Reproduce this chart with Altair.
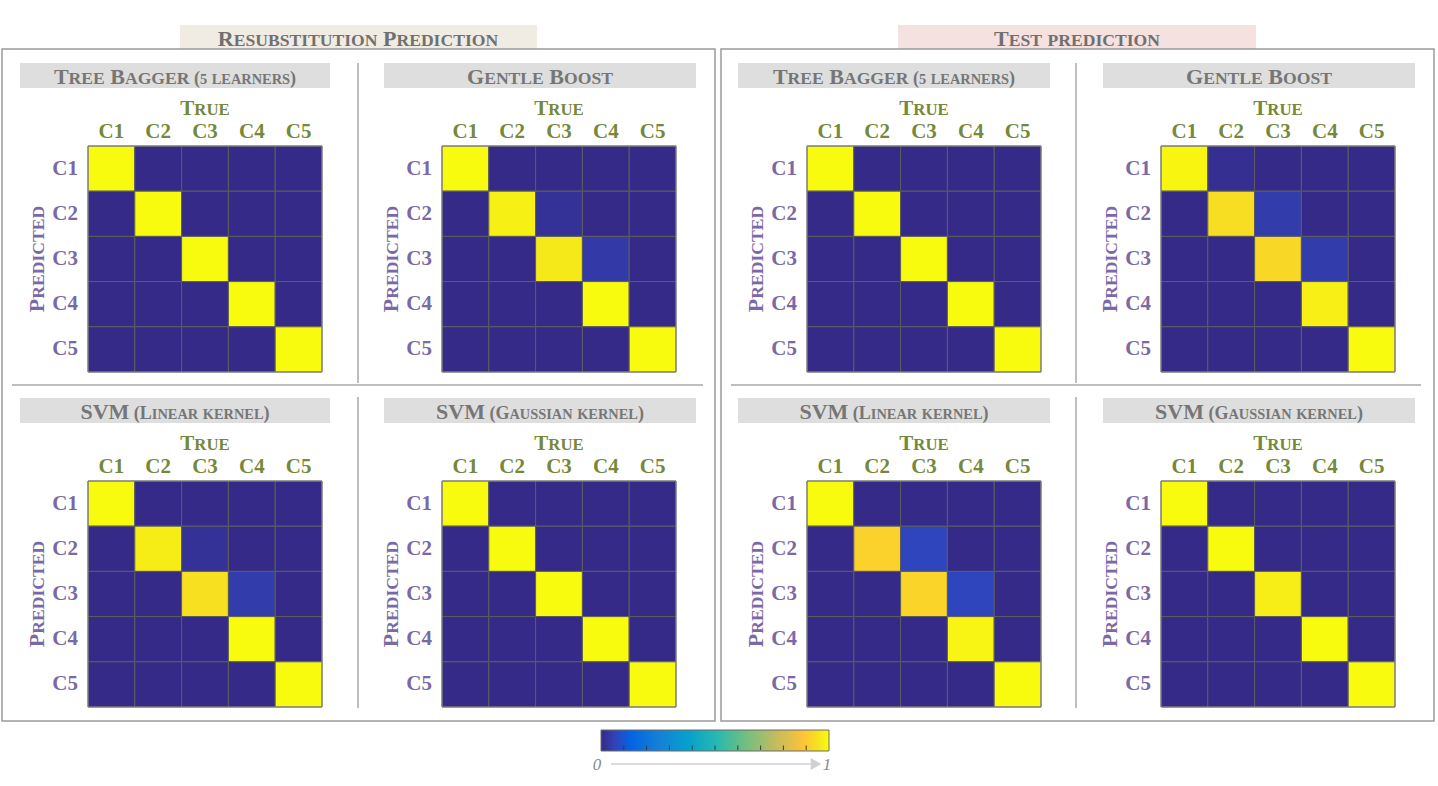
import altair as alt
import pandas as pd

# ---------------- data ----------------
classes = ["C1", "C2", "C3", "C4", "C5"]

# rows = predicted class, columns = true class
resub_tree_bagger = [
    [1, 0, 0, 0, 0],
    [0, 1, 0, 0, 0],
    [0, 0, 1, 0, 0],
    [0, 0, 0, 1, 0],
    [0, 0, 0, 0, 1],
]
resub_gentle_boost = [
    [1, 0, 0, 0, 0],
    [0, 0.977, 0.02, 0, 0],
    [0, 0, 0.962, 0.04, 0],
    [0, 0, 0, 1, 0],
    [0, 0, 0, 0, 1],
]
resub_svm_linear = [
    [1, 0, 0, 0, 0],
    [0, 0.97, 0.02, 0, 0],
    [0, 0, 0.945, 0.045, 0],
    [0, 0, 0, 1, 0],
    [0, 0, 0, 0, 1],
]
resub_svm_gaussian = [
    [1, 0, 0, 0, 0],
    [0, 1, 0, 0, 0],
    [0, 0, 1, 0, 0],
    [0, 0, 0, 1, 0],
    [0, 0, 0, 0, 1],
]
test_tree_bagger = [
    [1, 0, 0, 0, 0],
    [0, 1, 0, 0, 0],
    [0, 0, 1, 0, 0],
    [0, 0, 0, 1, 0],
    [0, 0, 0, 0, 1],
]
test_gentle_boost = [
    [0.99, 0.012, 0, 0, 0],
    [0, 0.94, 0.045, 0, 0],
    [0, 0, 0.928, 0.045, 0],
    [0, 0, 0, 0.975, 0],
    [0, 0, 0, 0, 1],
]
test_svm_linear = [
    [1, 0, 0, 0, 0],
    [0, 0.918, 0.068, 0, 0],
    [0, 0, 0.922, 0.068, 0],
    [0, 0, 0, 0.985, 0],
    [0, 0, 0, 0, 1],
]
test_svm_gaussian = [
    [1, 0, 0, 0, 0],
    [0, 1, 0, 0, 0],
    [0, 0, 0.972, 0, 0],
    [0, 0, 0, 1, 0],
    [0, 0, 0, 0, 1],
]

group_titles = ["Resubstitution Prediction", "Test prediction"]
panel_titles = [
    ("Tree Bagger", "(5 learners)"),
    ("Gentle Boost", ""),
    ("SVM", "(Linear kernel)"),
    ("SVM", "(Gaussian kernel)"),
]
true_label = "True"
pred_label = "Predicted"
legend_ends = ["0", "1"]

# parula colormap stops
parula_stops = [0, 4/63, 8/63, 16/63, 24/63, 32/63, 40/63, 48/63, 56/63, 60/63, 1]
parula_colors = ["#352a87", "#3243ba", "#0363e1", "#1481d6", "#06a0cd", "#27b9b0",
                 "#71bf80", "#c0bc5e", "#ffc337", "#f5e41d", "#f9fb0e"]

# ---------------- styling / layout ----------------
SERIF = "Liberation Serif"
GREEN = "#76883a"
PURPLE = "#7b68a6"
GREY_TXT = "#767676"
LINE = "#a8a8a8"

GRID_X = [88, 442, 807, 1161]
GRID_Y = [146, 481]
GW, GH = 234, 226
BAND_X = [(20, 330), (384, 696), (738, 1050), (1103, 1415)]
BAND_Y = [(63, 88), (398, 423)]
TITLE_BASE = [84, 419]
CBAR = (601, 829, 730, 751)

# Times/Liberation Serif Bold advance widths (per 1000 em)
WID = {'A': 722, 'B': 667, 'C': 722, 'D': 722, 'E': 667, 'F': 611, 'G': 778, 'H': 778,
       'I': 389, 'J': 500, 'K': 778, 'L': 667, 'M': 944, 'N': 722, 'O': 778, 'P': 611,
       'Q': 778, 'R': 722, 'S': 556, 'T': 667, 'U': 722, 'V': 722, 'W': 1000, 'X': 722,
       'Y': 722, 'Z': 667, ' ': 250, '(': 333, ')': 333}
for d in "0123456789":
    WID[d] = 500

one = pd.DataFrame({"k": [0]})


def sc_runs(text, S, r):
    runs = []
    for ch in text:
        if ch == " ":
            runs.append(["", S, WID[" "] * S / 1000])
            continue
        big = ch.isupper() or ch in "()"
        size = S if big else round(S * r, 2)
        g = ch.upper()
        w = WID.get(g, 600) * size / 1000
        if runs and runs[-1][0] != "" and runs[-1][1] == size:
            runs[-1][0] += g
            runs[-1][2] += w
        else:
            runs.append([g, size, w])
    return runs


def text_layer(txt, x, y, size, color, angle=0, weight="bold", style="normal",
               align="left", baseline="alphabetic"):
    return alt.Chart(one).mark_text(
        text=txt, font=SERIF, fontWeight=weight, fontStyle=style, fontSize=size,
        align=align, baseline=baseline, angle=angle, color=color
    ).encode(x=alt.value(x), y=alt.value(y))


def sc_text(segments, cx, base, color):
    runs = []
    for i, (t, S, r) in enumerate(segments):
        if i > 0 and t:
            runs.append(["", S, WID[" "] * S / 1000])
        runs += sc_runs(t, S, r)
    total = sum(r[2] for r in runs)
    x = cx - total / 2
    out = []
    for txt, size, w in runs:
        if txt:
            out.append(text_layer(txt, x, base, size, color))
        x += w
    return out


def sc_vtext(segments, cy, bx, color):
    runs = []
    for t, S, r in segments:
        runs += sc_runs(t, S, r)
    total = sum(r[2] for r in runs)
    y = cy + total / 2
    out = []
    for txt, size, w in runs:
        if txt:
            out.append(text_layer(txt, bx, y, size, color, angle=270))
        y -= w
    return out


def rect_deco(x, x2, y, y2, fill=None, stroke=None, sw=1.5):
    kw = {}
    if fill is not None:
        kw["fill"] = fill
    else:
        kw["fillOpacity"] = 0
    if stroke:
        kw["stroke"] = stroke
        kw["strokeWidth"] = sw
    return alt.Chart(one).mark_rect(**kw).encode(
        x=alt.value(x), x2=alt.value(x2), y=alt.value(y), y2=alt.value(y2))


def rule_deco(x, x2, y, y2, color=LINE, sw=1.5):
    return alt.Chart(one).mark_rule(color=color, strokeWidth=sw).encode(
        x=alt.value(x), x2=alt.value(x2), y=alt.value(y), y2=alt.value(y2))


color_scale = alt.Scale(domain=parula_stops, range=parula_colors, interpolate="rgb")


def panel(matrix, gx, gy):
    rows = [{"true": classes[j], "pred": classes[i], "value": matrix[i][j]}
            for i in range(5) for j in range(5)]
    df = pd.DataFrame(rows)
    xs = alt.Scale(domain=classes, range=[gx, gx + GW], paddingInner=0, paddingOuter=0)
    ys = alt.Scale(domain=classes, range=[gy, gy + GH], paddingInner=0, paddingOuter=0)
    cells = alt.Chart(df).mark_rect(stroke="#5c5c5c", strokeWidth=1).encode(
        x=alt.X("true:N", scale=xs, axis=None),
        y=alt.Y("pred:N", scale=ys, axis=None),
        color=alt.Color("value:Q", scale=color_scale, legend=None),
    )
    lab = pd.DataFrame({"cls": classes})
    top = alt.Chart(lab).mark_text(font=SERIF, fontWeight="bold", fontSize=21,
                                   color=GREEN, baseline="alphabetic").encode(
        x=alt.X("cls:N", scale=xs, axis=None), y=alt.value(gy - 8), text="cls:N")
    left = alt.Chart(lab).mark_text(font=SERIF, fontWeight="bold", fontSize=21,
                                    color=PURPLE, align="right", baseline="middle").encode(
        y=alt.Y("cls:N", scale=ys, axis=None), x=alt.value(gx - 10), text="cls:N")
    return alt.layer(cells, top, left)


layers = []

# group boxes and title bands
layers.append(rect_deco(180, 537, 25, 49, fill="#f0ece4"))
layers.append(rect_deco(898, 1256, 25, 49, fill="#f5e1df"))
layers.append(rect_deco(2, 715, 49, 721, stroke="#9a9a9a"))
layers.append(rect_deco(721, 1434, 49, 721, stroke="#9a9a9a"))
layers += sc_text([(group_titles[0], 22, 0.8)], 358, 46, "#707070")
layers += sc_text([(group_titles[1], 22, 0.8)], 1077, 46, "#707070")

# dividers
for vx, hx0, hx1 in [(358, 12, 703), (1076, 731, 1421)]:
    layers.append(rule_deco(vx, vx, 63, 383))
    layers.append(rule_deco(vx, vx, 397, 708))
    layers.append(rule_deco(hx0, hx1, 385, 385))

# panel title bands + titles + axis titles
for ci in range(4):
    for ri in range(2):
        bx0, bx1 = BAND_X[ci]
        by0, by1 = BAND_Y[ri]
        layers.append(rect_deco(bx0, bx1, by0, by1, fill="#dedede"))
        main, sub = panel_titles[(ci % 2) + 2 * ri]
        segs = [(main, 22, 0.8)]
        if sub:
            segs.append((sub, 18, 0.8))
        layers += sc_text(segs, (bx0 + bx1) / 2, TITLE_BASE[ri], GREY_TXT)
        gx, gy = GRID_X[ci], GRID_Y[ri]
        layers += sc_text([(true_label, 21, 0.8)], gx + GW / 2, gy - 31, GREEN)
        layers += sc_vtext([(pred_label, 22, 0.8)], gy + GH / 2, gx - 44, PURPLE)

# heatmaps
mats = [
    (resub_tree_bagger, 0, 0), (resub_gentle_boost, 1, 0),
    (resub_svm_linear, 0, 1), (resub_svm_gaussian, 1, 1),
    (test_tree_bagger, 2, 0), (test_gentle_boost, 3, 0),
    (test_svm_linear, 2, 1), (test_svm_gaussian, 3, 1),
]
for m, ci, ri in mats:
    gx, gy = GRID_X[ci], GRID_Y[ri]
    layers.append(panel(m, gx, gy))
    layers.append(rect_deco(gx, gx + GW, gy, gy + GH, stroke="#8a8a8a", sw=1))

# colour bar (parula gradient built from the same colour stops), ticks, arrow, labels
cx0, cx1, cy0, cy1 = CBAR
grad = alt.LinearGradient(
    gradient="linear", x1=0, x2=1, y1=0, y2=0,
    stops=[alt.GradientStop(offset=float(o), color=c)
           for o, c in zip(parula_stops, parula_colors)],
)
layers.append(alt.Chart(one).mark_rect(fill=grad, stroke="#6a6a6a", strokeWidth=1).encode(
    x=alt.value(cx0), x2=alt.value(cx1), y=alt.value(cy0), y2=alt.value(cy1)))
for k in range(1, 10):
    tx = cx0 + (cx1 - cx0) * k / 10
    layers.append(rule_deco(tx, tx, 745.5, 750, color="#3a3a3a", sw=1))
layers.append(rule_deco(611, 813, 764, 764, color="#d0d0d0", sw=1.5))
layers.append(alt.Chart(one).mark_point(shape="triangle-right", filled=True, size=150,
                                        color="#d0d0d0", opacity=1).encode(
    x=alt.value(816), y=alt.value(764)))
layers.append(text_layer(legend_ends[0], 597, 765, 17, "#8a8a8a", weight="normal",
                         style="italic", align="center", baseline="middle"))
layers.append(text_layer(legend_ends[1], 827, 765, 17, "#8a8a8a", weight="normal",
                         style="italic", align="center", baseline="middle"))

chart = alt.layer(*layers).resolve_scale(
    x="independent", y="independent"
).properties(
    width=1438, height=786, padding=0,
    autosize=alt.AutoSizeParams(type="none"),
    background="white",
).configure_view(strokeWidth=0)

chart.save("out.html", embed_options={"renderer": "svg", "actions": False})
